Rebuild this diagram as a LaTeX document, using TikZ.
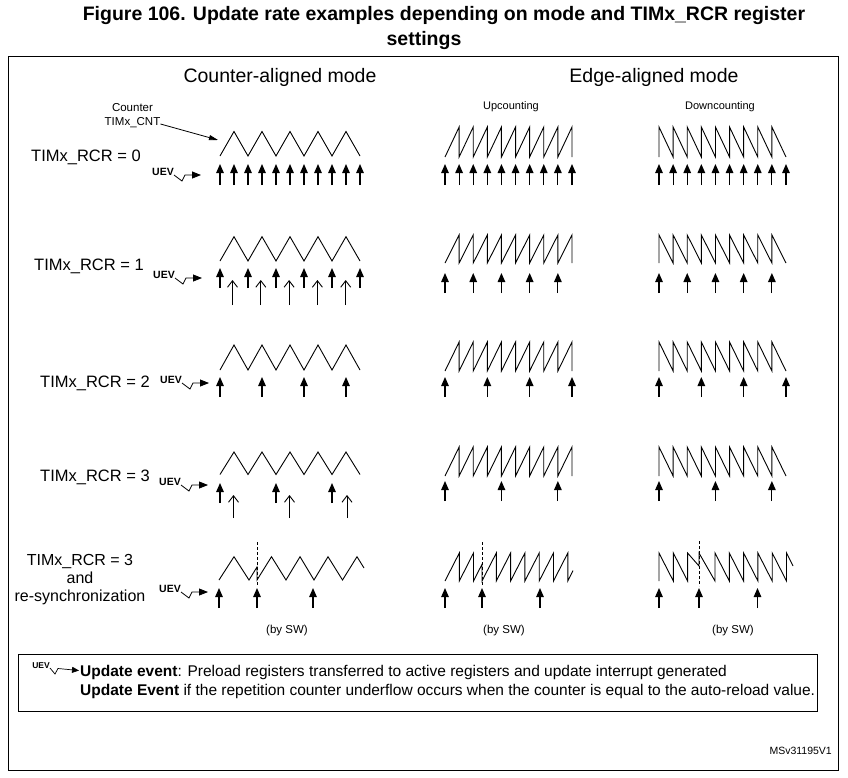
\documentclass[tikz,border=0pt]{standalone}
\usepackage{fontspec}
\setmainfont{Liberation Sans}
\usetikzlibrary{arrows.meta}
\newcommand{\fsz}[2]{\fontsize{#1}{#2}\selectfont}
% waveforms
\newcommand{\triwave}[3]{\draw[wave] (#1,#3) \foreach \k in {0,...,4} { -- ({#1+14+28*\k},#2) -- ({#1+28+28*\k},#3) };}
\newcommand{\upsaw}[3]{\draw[wave] (#1,#3) \foreach \k in {1,...,9} { -- ({#1+14.11*\k},#2) -- ({#1+14.11*\k},#3) };}
\newcommand{\downsaw}[3]{\draw[wave] (#1,#3) \foreach \k in {0,...,8} { -- ({#1+14.11*\k},#2) -- ({#1+14.11*(\k+1)},#3) };}
% UEV marker: name, tip x, tip y
\newcommand{\uevmark}[3]{%
  \node[uevtext, anchor=base east] (#1) at ({#2-27},#3) {UEV};
  \draw[uevline] (#1.base east) -- ++(8,6) -- ++(3,-6) -- (#2,#3);}
\begin{document}
\begin{tikzpicture}[x=1pt,y=-1pt,
  wave/.style={line width=0.9pt, line join=miter},
  fillarrow/.style={line width=1.2pt, -{Triangle[width=7.5pt,length=9pt]}},
  openarrow/.style={line width=0.9pt, -{Straight Barb[width=10pt,length=6.5pt,line width=0.9pt]}},
  uevtext/.style={inner sep=0pt, font=\bfseries\fsz{10.5}{12}},
  uevline/.style={line width=0.8pt, -{Triangle[width=7pt,length=9pt]}},
  rowlabel/.style={inner sep=0pt, font=\fsz{16.5}{18}, align=center},
  small/.style={inner sep=0pt, font=\fsz{11.5}{13}},
  sync/.style={line width=0.9pt, dashed, dash pattern=on 3pt off 2pt}]
\useasboundingbox (0,0) rectangle (848,777);
\fill[white] (0,0) rectangle (848,777);

% title
\node[inner sep=0pt, font=\bfseries\fsz{19.5}{24}] (title) at (444,15) {Figure 106. Update rate examples depending on mode and TIMx\_RCR register};
\node[inner sep=0pt, font=\bfseries\fsz{19.5}{24}] (title2) at (424,40) {settings};
\draw[line width=0.9pt] (8,56) rectangle (838,770);

% headers
\node[inner sep=0pt, font=\fsz{19.5}{22}] (hca) at (280,77) {Counter-aligned mode};
\node[inner sep=0pt, font=\fsz{19.5}{22}] (hea) at (654,77) {Edge-aligned mode};
\node[small, font=\fsz{11}{13}] (hup) at (511,107) {Upcounting};
\node[small, font=\fsz{11}{13}] (hdn) at (720,107) {Downcounting};
\node[small, align=center, font=\fsz{11.5}{14}] (cnt) at (132.5,116) {Counter\\TIMx\_CNT};
\coordinate (cnttip) at (218,140);
\draw[line width=0.8pt, -{Triangle[width=5pt,length=9pt]}] (cnt.east |- 0,124) -- (cnttip);

% row labels
\node[rowlabel] (r0) at (86,157) {TIMx\_RCR = 0};
\node[rowlabel] (r1) at (89,266) {TIMx\_RCR = 1};
\node[rowlabel] (r2) at (95,383) {TIMx\_RCR = 2};
\node[rowlabel] (r3) at (95,477) {TIMx\_RCR = 3};
\node[rowlabel, font=\fsz{16}{18}] (r4) at (80,580) {TIMx\_RCR = 3\\and\\re-synchronization};

% UEV marks
\uevmark{u0}{201}{175}
\uevmark{u1}{202}{278}
\uevmark{u2}{209}{383}
\uevmark{u3}{208}{485}
\uevmark{u4}{208}{592}

% ---------- Row 1 (RCR=0)
\triwave{220}{131.5}{156}
\foreach \k in {0,...,10} \draw[fillarrow] ({220+14*\k},185) -- ({220+14*\k},164);
\upsaw{445}{127}{157}
\downsaw{659}{127}{157}
\foreach \k in {0,...,9} {\draw[fillarrow] ({445+14.11*\k},185) -- ({445+14.11*\k},164);
  \draw[fillarrow] ({659+14.11*\k},185) -- ({659+14.11*\k},164);}

% ---------- Row 2 (RCR=1)
\triwave{220}{236.7}{261}
\foreach \k in {0,...,5} \draw[fillarrow] ({220+28*\k},288) -- ({220+28*\k},268);
\foreach \k in {0,...,4} \draw[openarrow] ({232.5+28.3*\k},305) -- ({232.5+28.3*\k},280);
\upsaw{445}{235}{263}
\downsaw{659}{235}{263}
\foreach \k in {0,2,...,8} {\draw[fillarrow] ({445+14.11*\k},293) -- ({445+14.11*\k},273);
  \draw[fillarrow] ({659+14.11*\k},293) -- ({659+14.11*\k},273);}

% ---------- Row 3 (RCR=2)
\triwave{220}{345}{370}
\foreach \x in {220,262,304,346} \draw[fillarrow] (\x,397) -- (\x,377);
\upsaw{445}{342}{371}
\downsaw{659}{342}{371}
\foreach \k in {0,3,6,9} {\draw[fillarrow] ({445+14.11*\k},397) -- ({445+14.11*\k},377);
  \draw[fillarrow] ({659+14.11*\k},397) -- ({659+14.11*\k},377);}

% ---------- Row 4 (RCR=3)
\triwave{220}{452}{474.5}
\foreach \x in {220,276,332} \draw[fillarrow] (\x,503) -- (\x,483);
\foreach \x in {233.5,289.5,347} \draw[openarrow] (\x,518) -- (\x,495);
\upsaw{445}{447}{476}
\downsaw{659}{447}{476}
\foreach \k in {0,4,8} {\draw[fillarrow] ({445+14.11*\k},501) -- ({445+14.11*\k},481);
  \draw[fillarrow] ({659+14.11*\k},501) -- ({659+14.11*\k},481);}

% ---------- Row 5 (RCR=3 + resync)
\draw[wave] (219,580) -- (234,556.7) -- (249,580) -- (257,567) -- (257,580)
  -- (271.5,556.7) -- (286,580) -- (300,556.7) -- (314,580) -- (328,556.7)
  -- (342.5,580) -- (357,556.7) -- (364,568);
\draw[sync] (257,542) -- (257,585);
\foreach \x in {219,257,313} \draw[fillarrow] (\x,608) -- (\x,588);

\draw[wave] (445,581) -- (459.3,553) -- (459.3,581) -- (473.5,553) -- (473.5,581) -- (482,564.3) -- (482,581)
  \foreach \k in {1,...,6} { -- ({482+14.3*\k},553) -- ({482+14.3*\k},581) } -- (573,570.5);
\draw[sync] (482,542) -- (482,585);
\foreach \x in {445,482,540} \draw[fillarrow] (\x,608) -- (\x,588);

\draw[wave] (659,581) -- (659,553) -- (673.3,581) -- (673.3,553) -- (687.6,581) -- (687.6,553) -- (699,566) -- (699,553) -- (715,581)
  \foreach \k in {0,...,4} { -- ({715+14.3*\k},553) -- ({715+14.3*(\k+1)},581) } -- (786.5,553) -- (793,566);
\draw[sync] (699,541) -- (699,586);
\foreach \x in {659,699,757.5} \draw[fillarrow] (\x,608) -- (\x,588);

% by SW
\node[small] (sw1) at (287,631) {(by SW)};
\node[small] (sw2) at (504,631) {(by SW)};
\node[small] (sw3) at (733,631) {(by SW)};

% legend
\draw[line width=0.9pt] (18,654) rectangle (817,711);
\node[inner sep=0pt, anchor=base east, font=\bfseries\fsz{8.5}{10}] (lu) at (50,668) {UEV};
\coordinate (lutip) at (79,670.5);
\draw[line width=0.7pt, -{Triangle[width=6pt,length=7pt]}] (lu.base east) -- ++(5,6) -- ++(3,-5.5) -- (lutip);
\node[inner sep=0pt, anchor=base west, font=\fsz{15.5}{17}] (l1) at (80,676.5) {\textbf{Update event}: Preload registers transferred to active registers and update interrupt generated};
\node[inner sep=0pt, anchor=base west, font=\fsz{15.5}{17}] (l2) at (80,695.5) {\textbf{Update Event} if the repetition counter underflow occurs when the counter is equal to the auto-reload value.};

\node[inner sep=0pt, anchor=east, font=\fsz{10.5}{12}] (ms) at (832,751) {MSv31195V1};
\end{tikzpicture}
\end{document}
